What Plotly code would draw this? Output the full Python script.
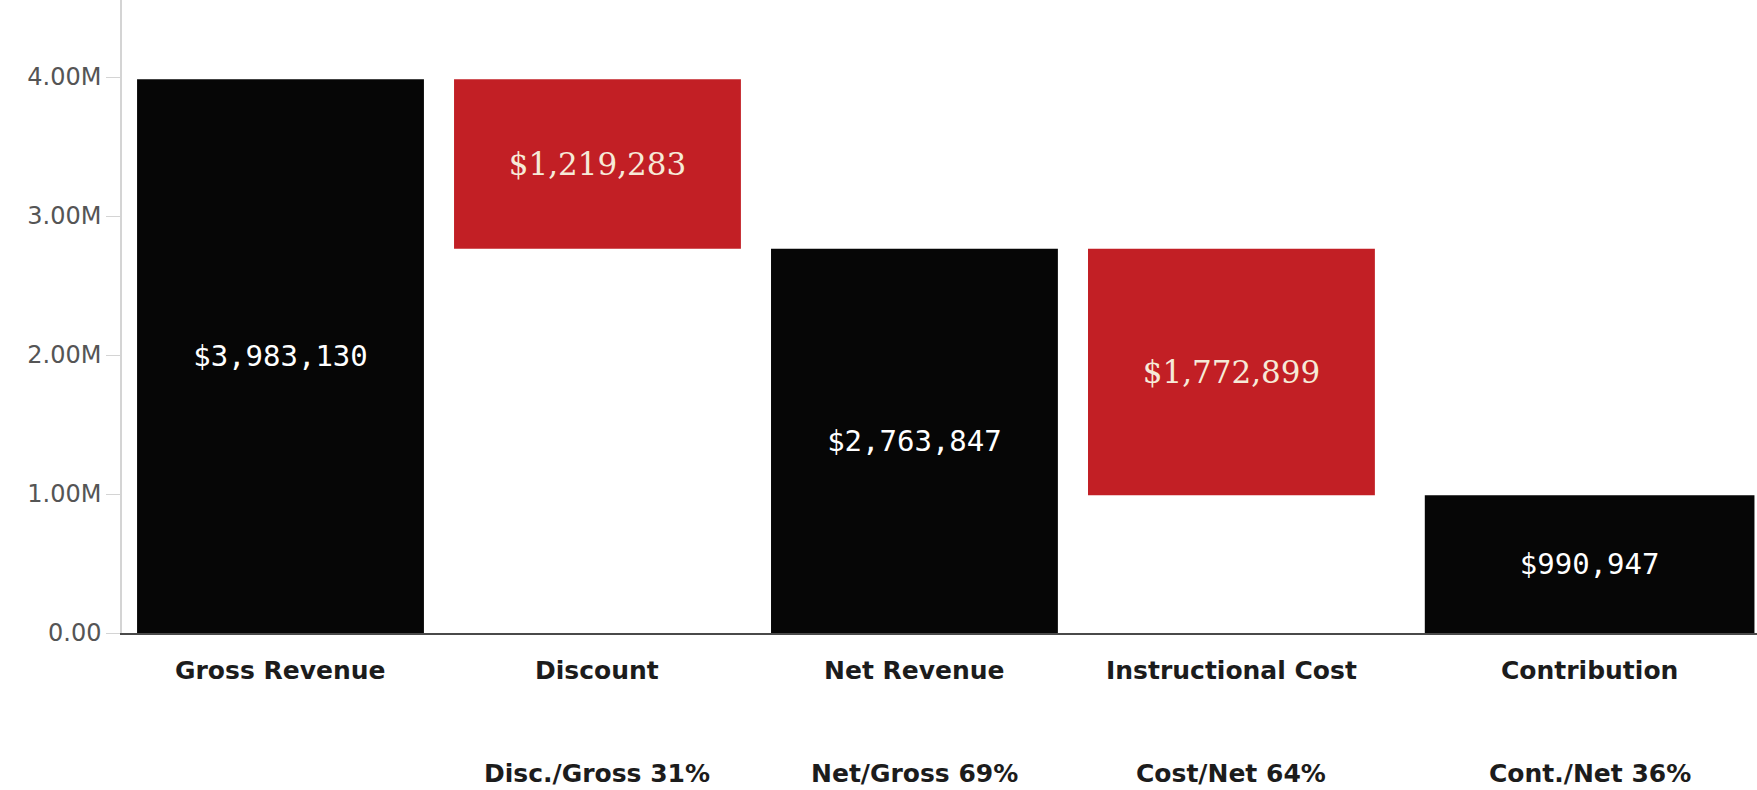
import plotly.graph_objects as go

# Revenue-to-contribution bridge
categories = ["Gross Revenue", "Discount", "Net Revenue", "Instructional Cost", "Contribution"]
amounts = [3983130, 1219283, 2763847, 1772899, 990947]
kinds = ["total", "decrease", "total", "decrease", "total"]

# ratio row under the axis: (prefix, numerator index, denominator index)
ratio_defs = [None, ("Disc./Gross", 1, 0), ("Net/Gross", 2, 0), ("Cost/Net", 3, 2), ("Cont./Net", 4, 2)]

y_tickvals = [0, 1_000_000, 2_000_000, 3_000_000, 4_000_000]
y_ticktext = ["0.00", "1.00M", "2.00M", "3.00M", "4.00M"]

# floating bases: a decrease hangs down from the running total
bases, heights = [], []
running = 0
for amt, kind in zip(amounts, kinds):
    if kind == "total":
        bases.append(0)
        running = amt
    else:
        running -= amt
        bases.append(running)
    heights.append(amt)

BLACK = "#060606"
RED = "#c21f25"
colors = [BLACK if k == "total" else RED for k in kinds]
label_colors = ["#ffffff" if k == "total" else "#f6ead8" for k in kinds]
label_fonts = ["DejaVu Sans Mono" if k == "total" else "DejaVu Serif" for k in kinds]
label_sizes = [29 if k == "total" else 31 for k in kinds]
labels = [f"${a:,}" for a in amounts]

# bar widths / offsets in category units (last column is set wider)
bar_w = [0.905, 0.905, 0.905, 0.905, 1.04]
bar_off = [-0.4525, -0.4525, -0.4525, -0.4525, -0.39]
centers = [i + o + w / 2 for i, (o, w) in enumerate(zip(bar_off, bar_w))]

fig = go.Figure(
    go.Bar(
        x=categories,
        y=heights,
        base=bases,
        width=bar_w,
        offset=bar_off,
        marker=dict(color=colors, line=dict(width=0)),
        text=labels,
        textposition="inside",
        insidetextanchor="middle",
        textangle=0,
        constraintext="none",
        textfont=dict(family=label_fonts, size=label_sizes, color=label_colors),
        hoverinfo="skip",
    )
)

label_font = dict(family="DejaVu Sans", size=25, color="#1c1c1c", weight="bold")
annotations = []
for i, name in enumerate(categories):
    annotations.append(dict(
        x=centers[i], xref="x", y=0, yref="paper", yshift=-37,
        text=name, showarrow=False, xanchor="center", yanchor="middle",
        font=label_font,
    ))
    rd = ratio_defs[i]
    if rd is not None:
        prefix, num, den = rd
        pct = round(100 * amounts[num] / amounts[den])
        annotations.append(dict(
            x=centers[i], xref="x", y=0, yref="paper", yshift=-156,
            text=f"{prefix} {pct}%", showarrow=False, xanchor="center", yanchor="bottom",
            borderpad=0,
            font=label_font,
        ))

fig.update_layout(
    width=1757,
    height=790,
    margin=dict(l=122, r=0, t=0, b=157),
    paper_bgcolor="white",
    plot_bgcolor="white",
    showlegend=False,
    bargap=0.1,
    annotations=annotations,
    xaxis=dict(
        type="category",
        range=[-0.5, 4.658],
        showticklabels=False,
        ticks="",
        showgrid=False,
        zeroline=False,
        showline=True,
        linecolor="#4a4a4a",
        linewidth=2,
        fixedrange=True,
    ),
    yaxis=dict(
        range=[0, 4_554_000],
        tickvals=y_tickvals,
        ticktext=y_ticktext,
        ticks="outside",
        ticklen=14,
        tickcolor="#d4d4d4",
        tickwidth=1,
        showgrid=False,
        zeroline=False,
        showline=True,
        linecolor="#d4d4d4",
        linewidth=1.5,
        tickfont=dict(family="DejaVu Sans", size=24, color="#555555"),
        fixedrange=True,
    ),
)

fig.write_html("out.html")
